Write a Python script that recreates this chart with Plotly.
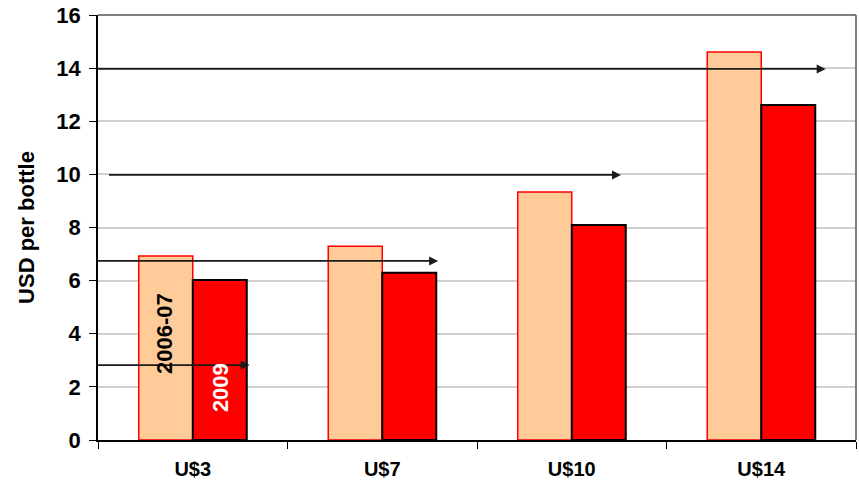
import plotly.graph_objects as go

# Average retail price per bottle by price tier
tiers = ["U$3", "U$7", "U$10", "U$14"]
period_labels = ["2006-07", "2009"]
price_2006_07 = [6.93, 7.29, 9.34, 14.61]
price_2009 = [6.02, 6.30, 8.09, 12.61]

# Reference price levels drawn as arrows (level, start, end on the category scale)
ref_levels = [2.82, 6.74, 9.98, 13.97]
ref_start = [-0.51, -0.51, -0.45, -0.51]
ref_end = [0.30, 1.295, 2.26, 3.34]

y_ticks = [0, 2, 4, 6, 8, 10, 12, 14, 16]

FONT = "Liberation Sans, Arial, sans-serif"

fig = go.Figure()
fig.add_trace(go.Bar(
    x=tiers, y=price_2006_07, name=period_labels[0],
    marker=dict(color="#FFCC99", line=dict(color="#FF0000", width=1.5)),
))
fig.add_trace(go.Bar(
    x=tiers, y=price_2009, name=period_labels[1],
    marker=dict(color="#FF0000", line=dict(color="#000000", width=2)),
))

# Horizontal reference arrows
for lvl, x0, x1 in zip(ref_levels, ref_start, ref_end):
    fig.add_annotation(
        x=x1, y=lvl, ax=x0, ay=lvl,
        xref="x", yref="y", axref="x", ayref="y",
        showarrow=True, arrowhead=2, arrowsize=1, arrowwidth=1.8,
        arrowcolor="#1a1a1a", text="",
    )

# Series names written inside the first pair of bars
fig.add_annotation(
    x=-0.149, y=4.01, xref="x", yref="y", text=period_labels[0],
    showarrow=False, textangle=-90,
    font=dict(family=FONT, size=22, color="#000000", weight="bold"),
)
fig.add_annotation(
    x=0.15, y=1.96, xref="x", yref="y", text=period_labels[1],
    showarrow=False, textangle=-90,
    font=dict(family=FONT, size=22, color="#FFFFFF", weight="bold"),
)

fig.update_layout(
    width=859, height=485,
    margin=dict(l=98, r=3, t=15, b=45),
    paper_bgcolor="white", plot_bgcolor="white",
    barmode="group", bargap=0.43, bargroupgap=0,
    showlegend=False,
    font=dict(family=FONT, color="#000000"),
)

fig.update_xaxes(
    type="category",
    showline=True, linecolor="#000000", linewidth=1.5,
    mirror=False,
    ticks="outside", tickson="boundaries", ticklen=7, tickcolor="#000000",
    tickfont=dict(family=FONT, size=20, weight="bold"),
    ticklabelstandoff=10,
    showgrid=False,
    range=[-0.5, 3.5],
)

fig.update_yaxes(
    range=[0, 16], tickvals=y_ticks,
    showline=True, linecolor="#000000", linewidth=1.5,
    ticks="outside", ticklen=7, tickcolor="#000000",
    tickfont=dict(family=FONT, size=22, weight="bold"),
    ticklabelstandoff=4,
    showgrid=True, gridcolor="#D0D0D0", gridwidth=1.5,
    zeroline=False,
    title=dict(text="USD per bottle", font=dict(family=FONT, size=22, weight="bold"), standoff=16),
)

# Frame along top and right edges of the plot area
fig.add_shape(type="line", xref="paper", yref="paper", x0=0, x1=1, y0=1, y1=1,
              line=dict(color="#555555", width=1.5))
fig.add_shape(type="line", xref="paper", yref="paper", x0=1, x1=1, y0=0, y1=1,
              line=dict(color="#555555", width=1.5))

fig.write_html("out.html")
